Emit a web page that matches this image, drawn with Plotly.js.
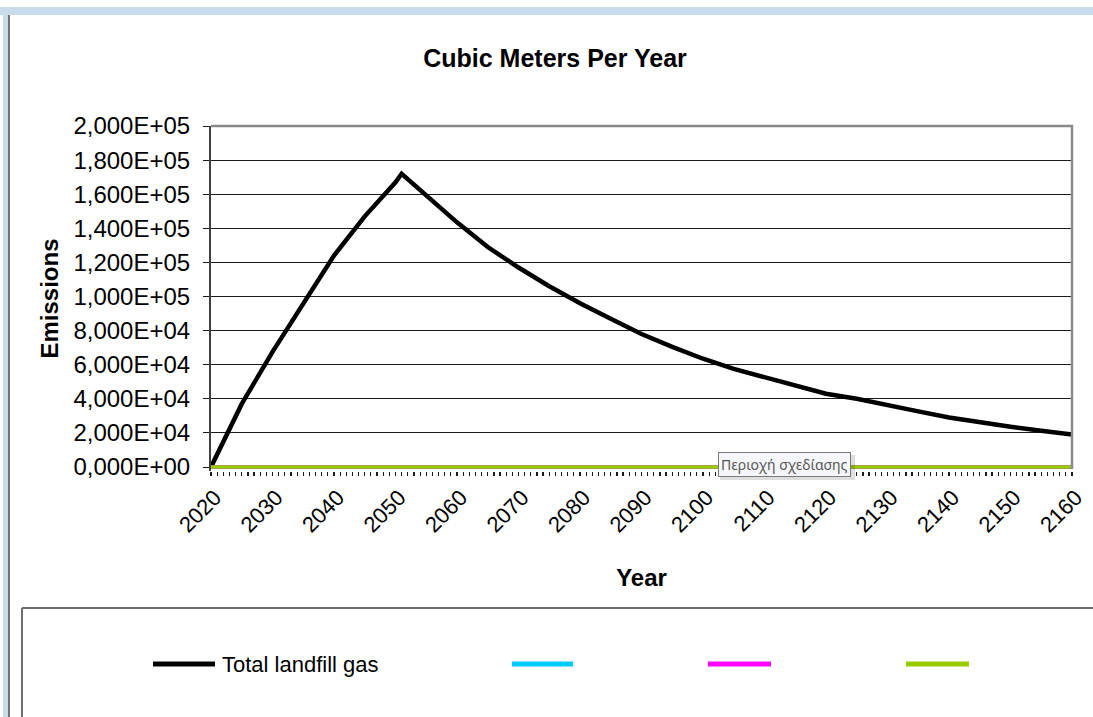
<!DOCTYPE html>
<html>
<head>
<meta charset="utf-8">
<script src="https://cdn.plot.ly/plotly-3.0.1.min.js"></script>
<style>
  html, body { margin: 0; padding: 0; background: #ffffff; }
  #chart { width: 1093px; height: 717px; }
</style>
</head>
<body>
<div id="chart"></div>
<script>
// Landfill gas generation, cubic meters per year
const years = [2020, 2025, 2030, 2035, 2040, 2045, 2050, 2051, 2055, 2060, 2065, 2070,
               2075, 2080, 2085, 2090, 2095, 2100, 2105, 2110, 2115, 2120, 2125, 2130,
               2135, 2140, 2145, 2150, 2155, 2160];
const totalLandfillGas = [0, 37000, 67500, 96000, 124000, 147000, 167000, 172000, 159000,
                          143500, 129000, 117000, 106000, 96000, 87000, 78000, 70500, 63500,
                          57500, 52500, 47500, 43000, 40000, 36000, 32600, 29000, 26100,
                          23600, 21200, 19000];

// The three other components are zero over the whole period
const componentYears = [2020, 2160];
const componentA = [0, 0];
const componentB = [0, 0];
const componentC = [0, 0];

const seriesNames = ['Total landfill gas', '', '', ''];
const seriesColors = ['#000000', '#00ccff', '#ff00ff', '#99cc00'];

const yTickValues = [0, 20000, 40000, 60000, 80000, 100000, 120000, 140000, 160000, 180000, 200000];
const yTickLabels = ['0,000E+00', '2,000E+04', '4,000E+04', '6,000E+04', '8,000E+04', '1,000E+05',
                     '1,200E+05', '1,400E+05', '1,600E+05', '1,800E+05', '2,000E+05'];

// plot-area geometry in pixels; the area runs a few pixels below zero so the
// zero-level lines are not cut in half by the clip path
const W = 1093, H = 717;
const M = { l: 211, r: 21, t: 126, b: 246 };
const PW = W - M.l - M.r, PH = H - M.t - M.b;
const Y_PAD_PX = 4;
const yMax = 200000;
const yMin = -yMax * Y_PAD_PX / (PH - Y_PAD_PX);
const px = x => (x - M.l) / PW;          // pixel x -> paper x
const py = y => (H - M.b - y) / PH;      // pixel y -> paper y

const FONT = 'Liberation Sans, Arial, sans-serif';

const traces = [
  { x: years, y: totalLandfillGas, name: seriesNames[0] },
  { x: componentYears, y: componentA, name: seriesNames[1] },
  { x: componentYears, y: componentB, name: seriesNames[2] },
  { x: componentYears, y: componentC, name: seriesNames[3] }
].map((t, i) => Object.assign(t, {
  type: 'scatter', mode: 'lines', showlegend: false, hoverinfo: 'skip',
  line: { color: seriesColors[i], width: i === 0 ? 4.5 : 3.5 }
}));

// Legend row inside the lower box
const legendX = [[153, 215], [512, 573], [708, 771], [906, 969]];
const legendY = 664;

const shapes = [
  // window frame
  { type: 'rect', xref: 'paper', yref: 'paper', x0: px(0), x1: px(W), y0: py(15), y1: py(7),
    fillcolor: '#c8dcec', line: { width: 0 }, layer: 'below' },
  { type: 'rect', xref: 'paper', yref: 'paper', x0: px(3), x1: px(8.5), y0: py(H), y1: py(7),
    fillcolor: '#c8dcec', line: { width: 0 }, layer: 'below' },
  { type: 'line', xref: 'paper', yref: 'paper', x0: px(9), x1: px(9), y0: py(15), y1: py(H),
    line: { color: '#4a4a4a', width: 1.5 }, layer: 'below' },
  // legend box
  { type: 'line', xref: 'paper', yref: 'paper', x0: px(22), x1: px(W + 5), y0: py(608), y1: py(608),
    line: { color: '#6e6e6e', width: 2 }, layer: 'below' },
  { type: 'line', xref: 'paper', yref: 'paper', x0: px(22), x1: px(22), y0: py(608), y1: py(H + 5),
    line: { color: '#6e6e6e', width: 2 }, layer: 'below' },
  // plot area border (top and right)
  { type: 'path', xref: 'paper', yref: 'paper',
    path: `M0,1 L1,1 L1,${py(469)}`, line: { color: '#8a8a8a', width: 2.5 }, layer: 'above' },
  // tooltip shadow
  { type: 'rect', xref: 'paper', yref: 'paper', x0: px(720), x1: px(855), y0: py(480), y1: py(455),
    fillcolor: 'rgba(0,0,0,0.13)', line: { width: 0 }, layer: 'above' }
];

legendX.forEach((xs, i) => {
  shapes.push({ type: 'line', xref: 'paper', yref: 'paper', x0: px(xs[0]), x1: px(xs[1]),
    y0: py(legendY), y1: py(legendY), line: { color: seriesColors[i], width: 5 }, layer: 'above' });
});

const annotations = [
  { xref: 'paper', yref: 'paper', x: px(220), y: py(legendY), xanchor: 'left', yanchor: 'middle',
    text: seriesNames[0], showarrow: false, font: { family: FONT, size: 22, color: '#000000' } },
  { xref: 'paper', yref: 'paper', x: px(784.5), y: py(464.5), xanchor: 'center', yanchor: 'middle',
    text: 'Περιοχή σχεδίασης', showarrow: false,
    font: { family: 'Noto Sans, DejaVu Sans, sans-serif', size: 14, color: '#575757' },
    bgcolor: '#f5f6f9', bordercolor: '#7a7a7a', borderwidth: 1, borderpad: 2 }
];

const layout = {
  width: W, height: H,
  margin: M,
  paper_bgcolor: '#ffffff', plot_bgcolor: '#ffffff',
  showlegend: false,
  font: { family: FONT, color: '#000000' },
  title: {
    text: 'Cubic Meters Per Year',
    font: { family: FONT, size: 25, weight: 'bold', color: '#000000' },
    xref: 'container', yref: 'container', x: 555 / W, y: 1 - 58 / H,
    xanchor: 'center', yanchor: 'middle'
  },
  xaxis: {
    range: [2020, 2160], tickmode: 'linear', tick0: 2020, dtick: 10,
    ticks: 'outside', ticklen: 4, tickwidth: 1.2, tickcolor: '#1a1a1a',
    minor: { dtick: 1, tick0: 2020, ticks: 'outside', ticklen: 4, tickwidth: 1.2, tickcolor: '#1a1a1a', showgrid: false },
    tickangle: -45, tickfont: { family: FONT, size: 22, color: '#000000' },
    ticklabelshift: 4,
    showline: false, showgrid: false, zeroline: false, fixedrange: true,
    title: { text: 'Year', font: { family: FONT, size: 24, weight: 'bold', color: '#000000' }, standoff: 32 }
  },
  yaxis: {
    range: [yMin, yMax], tickmode: 'array', tickvals: yTickValues, ticktext: yTickLabels,
    ticks: 'outside', ticklen: 6, tickwidth: 1, tickcolor: '#1a1a1a', ticklabelstandoff: 8,
    tickfont: { family: FONT, size: 24, color: '#000000' },
    showline: true, linecolor: '#404040', linewidth: 2, layer: 'below traces',
    showgrid: true, gridcolor: '#1a1a1a', gridwidth: 1, zeroline: false, fixedrange: true,
    title: { text: 'Emissions', font: { family: FONT, size: 24, weight: 'bold', color: '#000000' }, standoff: 8 }
  },
  shapes: shapes,
  annotations: annotations
};

Plotly.newPlot('chart', traces, layout, { staticPlot: true, displayModeBar: false });
</script>
</body>
</html>
